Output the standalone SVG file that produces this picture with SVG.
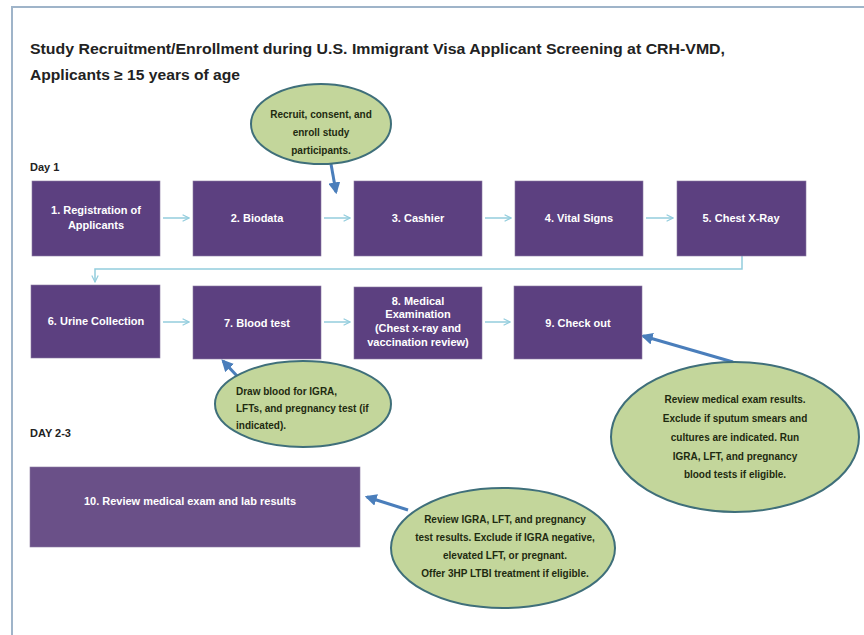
<svg xmlns="http://www.w3.org/2000/svg" width="864" height="635" viewBox="0 0 864 635">
<defs>
<style>
.box{fill:#5c4080;stroke:#8a7aa0;stroke-width:0.6}
.bt{font-family:"Liberation Sans",Arial,sans-serif;font-weight:bold;font-size:11px;fill:#ffffff;text-anchor:middle}
.ell{fill:#c3d69b;stroke:#3f6f7a;stroke-width:2}
.et{font-family:"Liberation Sans",Arial,sans-serif;font-weight:bold;font-size:10px;fill:#1e2a10;text-anchor:middle}
.etl{font-family:"Liberation Sans",Arial,sans-serif;font-weight:bold;font-size:10px;fill:#1e2a10;text-anchor:start}
.lbl{font-family:"Liberation Sans",Arial,sans-serif;font-weight:bold;fill:#222222}
.flow{fill:none;stroke:#93cddd;stroke-width:1.5}
.call{fill:none;stroke:#4a7ebb;stroke-width:3}
</style>
<marker id="open" viewBox="0 0 10 10" refX="9" refY="5" markerWidth="8" markerHeight="8" markerUnits="userSpaceOnUse" orient="auto">
<path d="M1,1 L9,5 L1,9" fill="none" stroke="#93cddd" stroke-width="1.5"/>
</marker>
<marker id="solid" viewBox="0 0 10 10" refX="8" refY="5" markerWidth="4" markerHeight="4" orient="auto">
<path d="M0,0 L10,5 L0,10 z" fill="#4a7ebb"/>
</marker>
</defs>
<rect width="864" height="635" fill="#ffffff"/>
<path d="M12,635 V7 H864" fill="none" stroke="#9fb4c9" stroke-width="2"/>
<text class="lbl" x="30" y="54" font-size="14.5" textLength="695" lengthAdjust="spacingAndGlyphs">Study Recruitment/Enrollment during U.S. Immigrant Visa Applicant Screening at CRH-VMD,</text>
<text class="lbl" x="30" y="80" font-size="14.5" textLength="210" lengthAdjust="spacingAndGlyphs">Applicants ≥ 15 years of age</text>
<text class="lbl" x="30" y="171" font-size="11">Day 1</text>
<text class="lbl" x="30" y="437" font-size="11">DAY 2-3</text>

<g id="connectors">
<line class="flow" x1="163" y1="218" x2="189" y2="218" marker-end="url(#open)"/>
<line class="flow" x1="324" y1="218" x2="350" y2="218" marker-end="url(#open)"/>
<line class="flow" x1="485" y1="218" x2="511" y2="218" marker-end="url(#open)"/>
<line class="flow" x1="646" y1="218" x2="673" y2="218" marker-end="url(#open)"/>
<path class="flow" d="M742,256 V269 H95 V282" marker-end="url(#open)"/>
<line class="flow" x1="163" y1="322" x2="189" y2="322" marker-end="url(#open)"/>
<line class="flow" x1="324" y1="322" x2="350" y2="322" marker-end="url(#open)"/>
<line class="flow" x1="485" y1="322" x2="510" y2="322" marker-end="url(#open)"/>
<line class="call" x1="331" y1="164" x2="336" y2="192" marker-end="url(#solid)"/>
<line class="call" x1="238" y1="377" x2="223" y2="361" marker-end="url(#solid)"/>
<line class="call" x1="733" y1="362" x2="643" y2="336" marker-end="url(#solid)"/>
<line class="call" x1="408" y1="510" x2="367" y2="497" marker-end="url(#solid)"/>
</g>

<g id="n1"><rect class="box" x="32" y="181" width="128" height="75"/><text class="bt" x="96" y="214">1. Registration of</text><text class="bt" x="96" y="229">Applicants</text></g>
<g id="n2"><rect class="box" x="193" y="181" width="128" height="75"/><text class="bt" x="257" y="222">2. Biodata</text></g>
<g id="n3"><rect class="box" x="354" y="181" width="128" height="75"/><text class="bt" x="418" y="222">3. Cashier</text></g>
<g id="n4"><rect class="box" x="515" y="181" width="128" height="75"/><text class="bt" x="579" y="222">4. Vital Signs</text></g>
<g id="n5"><rect class="box" x="677" y="181" width="129" height="75"/><text class="bt" x="741" y="222">5. Chest X-Ray</text></g>
<g id="n6"><rect class="box" x="31" y="285" width="129" height="73"/><text class="bt" x="96" y="325">6. Urine Collection</text></g>
<g id="n7"><rect class="box" x="193" y="286" width="128" height="73"/><text class="bt" x="257" y="327">7. Blood test</text></g>
<g id="n8"><rect class="box" x="354" y="287" width="128" height="72"/><text class="bt" x="418" y="305" font-size="10.5">8. Medical</text><text class="bt" x="418" y="318" font-size="10.5">Examination</text><text class="bt" x="418" y="332" font-size="10.5">(Chest x-ray and</text><text class="bt" x="418" y="346" font-size="10.5">vaccination review)</text></g>
<g id="n9"><rect class="box" x="514" y="286" width="128" height="73"/><text class="bt" x="578" y="327">9. Check out</text></g>
<g id="n10"><rect x="30" y="467" width="330" height="80" fill="#6a5088" stroke="#8a7aa0" stroke-width="0.6"/><text class="bt" x="190" y="505">10. Review medical exam and lab results</text></g>

<g id="e1"><ellipse class="ell" cx="321" cy="124" rx="70" ry="40"/><text class="et" x="321" y="118">Recruit, consent, and</text><text class="et" x="321" y="136">enroll study</text><text class="et" x="321" y="154">participants.</text></g>
<g id="e2"><ellipse class="ell" cx="303" cy="404" rx="88" ry="43"/><text class="etl" x="236" y="395">Draw blood for IGRA,</text><text class="etl" x="236" y="412">LFTs, and pregnancy test (if</text><text class="etl" x="236" y="429">indicated).</text></g>
<g id="e3"><ellipse class="ell" cx="735" cy="437" rx="124" ry="75"/><text class="et" x="735" y="403">Review medical exam results.</text><text class="et" x="735" y="422">Exclude if sputum smears and</text><text class="et" x="735" y="441">cultures are indicated. Run</text><text class="et" x="735" y="460">IGRA, LFT, and pregnancy</text><text class="et" x="735" y="478">blood tests if eligible.</text></g>
<g id="e4"><ellipse class="ell" cx="503" cy="548" rx="112" ry="60"/><text class="et" x="505" y="523">Review IGRA, LFT, and pregnancy</text><text class="et" x="505" y="541">test results. Exclude if IGRA negative,</text><text class="et" x="505" y="559">elevated LFT, or pregnant.</text><text class="et" x="505" y="577">Offer 3HP LTBI treatment if eligible.</text></g>
</svg>
